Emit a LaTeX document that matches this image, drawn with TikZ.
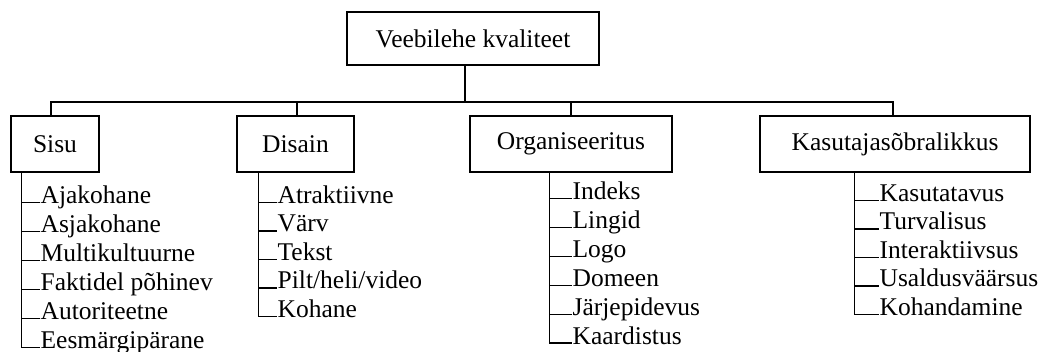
\documentclass[tikz,border=0pt]{standalone}
\usepackage{fontspec}
\setmainfont{Liberation Serif}
\usepackage{tikz}

\tikzset{
  box/.style={draw, rectangle, minimum height=56pt, inner sep=0pt},
  item/.style={anchor=base west, inner sep=0pt},
}

\begin{document}
\begin{tikzpicture}[x=1pt, y=-1pt, line width=1.3pt, font=\fontsize{25.5}{30}\selectfont]
\useasboundingbox (0,0) rectangle (1048,352);
% top and main groups
\node [box, minimum width=252pt, minimum height=53pt] (top) at (473,38.5) {Veebilehe kvaliteet};
\node [box, minimum width=88pt] (sisu) at (55,144) {Sisu};
\node [box, minimum width=117pt] (disain) at (295.5,144) {Disain};
\node [box, minimum width=202pt] (org) at (571,144) {Organiseeritus};
\node [box, minimum width=270pt] (kasu) at (895,144) {Kasutajasõbralikkus};
\coordinate (bar) at (465,102);
\draw ([xshift=-8pt]top.south) -- (bar);
\draw (bar) -| ([xshift=-4pt]sisu.north);
\draw (bar) -| ([xshift=1.5pt]disain.north);
\draw (bar) -| (org.north);
\draw (bar) -| ([xshift=-2pt]kasu.north);
% Sisu
\node [item] (s1) at (40,203.5) {Ajakohane};
\node [item] (s2) at (40,232.5) {Asjakohane};
\node [item] (s3) at (40,261.5) {Multikultuurne};
\node [item] (s4) at (40,290.5) {Faktidel põhinev};
\node [item] (s5) at (40,319.5) {Autoriteetne};
\node [item] (s6) at (40,348.5) {Eesmärgipärane};
\draw ([xshift=11pt]sisu.south west) |- ([yshift=1pt]s1.base west);
\draw ([xshift=11pt]sisu.south west) |- ([yshift=1pt]s2.base west);
\draw ([xshift=11pt]sisu.south west) |- ([yshift=1pt]s3.base west);
\draw ([xshift=11pt]sisu.south west) |- ([yshift=1pt]s4.base west);
\draw ([xshift=11pt]sisu.south west) |- ([yshift=1pt]s5.base west);
\draw ([xshift=11pt]sisu.south west) |- ([yshift=1pt]s6.base west);
% Disain
\node [item] (d1) at (277,203.5) {Atraktiivne};
\node [item] (d2) at (277,232) {Värv};
\node [item] (d3) at (277,260.5) {Tekst};
\node [item] (d4) at (277,289) {Pilt/heli/video};
\node [item] (d5) at (277,317.5) {Kohane};
\draw ([xshift=22pt]disain.south west) |- ([yshift=1pt]d1.base west);
\draw ([xshift=22pt]disain.south west) |- ([yshift=1pt]d2.base west);
\draw ([xshift=22pt]disain.south west) |- ([yshift=1pt]d3.base west);
\draw ([xshift=22pt]disain.south west) |- ([yshift=1pt]d4.base west);
\draw ([xshift=22pt]disain.south west) |- ([yshift=1pt]d5.base west);
% Organiseeritus
\node [item] (o1) at (572,199.5) {Indeks};
\node [item] (o2) at (572,228.5) {Lingid};
\node [item] (o3) at (572,257.5) {Logo};
\node [item] (o4) at (572,286.5) {Domeen};
\node [item] (o5) at (572,315.5) {Järjepidevus};
\node [item] (o6) at (572,344) {Kaardistus};
\draw ([xshift=80pt]org.south west) |- ([yshift=1pt]o1.base west);
\draw ([xshift=80pt]org.south west) |- ([yshift=1pt]o2.base west);
\draw ([xshift=80pt]org.south west) |- ([yshift=1pt]o3.base west);
\draw ([xshift=80pt]org.south west) |- ([yshift=1pt]o4.base west);
\draw ([xshift=80pt]org.south west) |- ([yshift=1pt]o5.base west);
\draw ([xshift=80pt]org.south west) |- ([yshift=1pt]o6.base west);
% Kasutajasõbralikkus
\node [item] (k1) at (879,201.5) {Kasutatavus};
\node [item] (k2) at (879,230) {Turvalisus};
\node [item] (k3) at (879,258.5) {Interaktiivsus};
\node [item] (k4) at (879,287) {Usaldusväärsus};
\node [item] (k5) at (879,315.5) {Kohandamine};
\draw ([xshift=95pt]kasu.south west) |- ([yshift=1pt]k1.base west);
\draw ([xshift=95pt]kasu.south west) |- ([yshift=1pt]k2.base west);
\draw ([xshift=95pt]kasu.south west) |- ([yshift=1pt]k3.base west);
\draw ([xshift=95pt]kasu.south west) |- ([yshift=1pt]k4.base west);
\draw ([xshift=95pt]kasu.south west) |- ([yshift=1pt]k5.base west);
\end{tikzpicture}
\end{document}
